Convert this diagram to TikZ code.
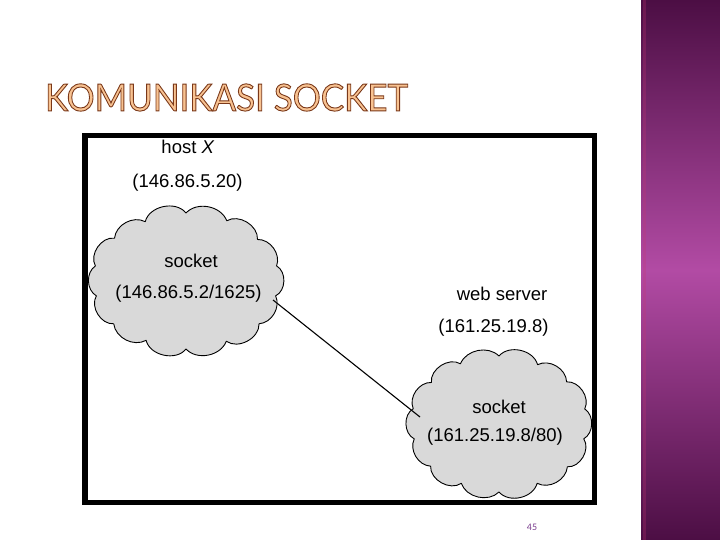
\documentclass[tikz,border=0pt]{standalone}
\usepackage{fontspec}
\setmainfont{Liberation Sans}
\newfontfamily\titlefont{Lato}
\newfontfamily\numfont{Carlito}
\definecolor{titlefill}{HTML}{F8C291}
\definecolor{cloudgray}{HTML}{D9D9D9}
\definecolor{barDark}{HTML}{4C0E44}
\definecolor{barMid}{HTML}{B24BA4}
\definecolor{numcol}{HTML}{7B3F8F}
\newcommand{\outlinedtext}[1]{\special{pdf:literal direct 2 Tr 0.9 w 0.48 0.22 0.10 RG}#1\special{pdf:literal direct 0 Tr}}
\tikzset{
  cloudline/.style={draw=black, line width=0.9pt, fill=cloudgray, line join=round},
  lbl/.style={font=\fontsize{18.5}{20}\selectfont, inner sep=0pt, anchor=center},
  link/.style={draw=black, line width=1.1pt},
  frame/.style={draw=black, line width=5.5pt}
}
\begin{document}
\begin{tikzpicture}[x=1pt,y=-1pt]
\useasboundingbox (0,0) rectangle (720,540);
\fill[white] (0,0) rectangle (720,540);
% right decorative bar
\shade[top color=barDark, bottom color=barDark, middle color=barMid] (641,0) rectangle (720,540);
\fill[barMid!70!red, opacity=0.25] (643,0) rectangle (646,540);
% title
\node[inner sep=0pt, anchor=center] (title) at (226.5,97.5)
  {\resizebox{363pt}{27pt}{\color{titlefill}\titlefont\fontsize{37}{40}\selectfont\outlinedtext{KOMUNIKASI SOCKET}}};
% cloud 1
\begin{scope}[shift={(186,281)}]
\path[cloudline] (-13:93 and 67)
  to[bend left=62] (13:92 and 66)
  to[bend left=55] (39:94 and 68)
  to[bend left=64] (64:92 and 67)
  to[bend left=58] (90:93 and 68)
  to[bend left=64] (116:91 and 66)
  to[bend left=56] (141:93 and 68)
  to[bend left=62] (167:92 and 66)
  to[bend left=58] (193:93 and 67)
  to[bend left=64] (219:92 and 68)
  to[bend left=56] (244:93 and 66)
  to[bend left=64] (270:92 and 68)
  to[bend left=58] (296:93 and 67)
  to[bend left=62] (321:92 and 66)
  to[bend left=56] (347:93 and 67) -- cycle;
\end{scope}
% cloud 2
\begin{scope}[shift={(499,424)}]
\path[cloudline] (-13:88 and 67)
  to[bend left=58] (13:87 and 66)
  to[bend left=64] (39:88 and 68)
  to[bend left=56] (64:87 and 66)
  to[bend left=62] (90:88 and 68)
  to[bend left=58] (116:86 and 66)
  to[bend left=64] (141:88 and 67)
  to[bend left=56] (167:87 and 66)
  to[bend left=62] (193:88 and 68)
  to[bend left=58] (219:87 and 66)
  to[bend left=64] (244:88 and 67)
  to[bend left=56] (270:87 and 68)
  to[bend left=62] (296:88 and 66)
  to[bend left=58] (321:87 and 67)
  to[bend left=60] (347:88 and 67) -- cycle;
\end{scope}
% connector
\coordinate (p1) at (273,300);
\coordinate (p2) at (420,417);
\draw[link] (p1) -- (p2);
% frame
\node[frame, minimum width=509.5pt, minimum height=366.5pt, inner sep=0pt] (fr) at (339.5,319) {};
% labels
\node[lbl] (hx) at (188,147) {host \textit{X}};
\node[lbl] (hxip) at (187.5,183) {(146.86.5.20)};
\node[lbl] (s1) at (191,261) {socket};
\node[lbl] (s1ip) at (188.5,294) {(146.86.5.2/1625)};
\node[lbl] (ws) at (502,294) {web server};
\node[lbl] (wsip) at (493.5,328) {(161.25.19.8)};
\node[lbl] (s2) at (499,407) {socket};
\node[lbl] (s2ip) at (495,437) {(161.25.19.8/80)};
\node[inner sep=0pt, text=numcol, font=\numfont\fontsize{10}{12}\selectfont] (pg) at (532,527) {45};
\end{tikzpicture}
\end{document}
